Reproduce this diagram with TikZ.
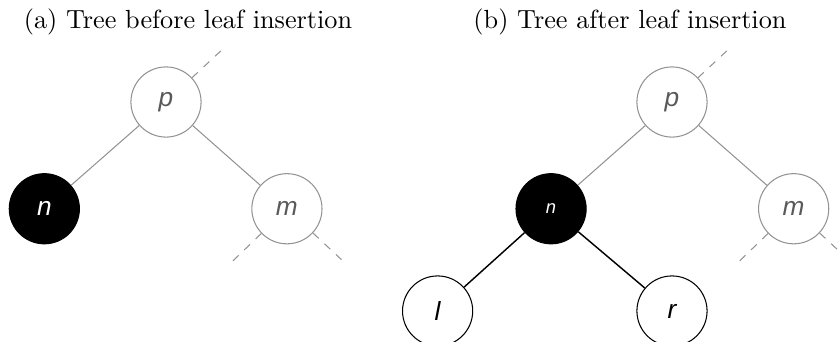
\documentclass[tikz,border=0pt]{standalone}
\usepackage{fontspec}
\newfontfamily\keyfont{Liberation Sans}
\usetikzlibrary{positioning}

\begin{document}
\begin{tikzpicture}[
        x=0.0134cm, y=-0.0134cm,
        node distance=1.43cm and 1.63cm,
        % caption of each tree
        caption/.style={anchor=base, font=\normalsize},
        % nodes already in the tree (gray)
        oldkey/.style={circle, draw=gray!85, minimum size=0.94cm, inner sep=0pt, text=black!65, font=\keyfont\itshape},
        % the inserted leaf
        leafkey/.style={circle, draw=black, fill=black, minimum size=0.94cm, inner sep=0pt, text=white, font=\keyfont\itshape},
        % new children
        newkey/.style={circle, draw=black, minimum size=0.94cm, inner sep=0pt, text=black, font=\keyfont\itshape},
        % edges
        oldedge/.style={draw=gray!85, line width=0.4pt},
        newedge/.style={draw=black, line width=0.55pt},
        stub/.style={draw=gray!85, dashed, line width=0.4pt}
    ]
    \useasboundingbox (0,0) rectangle (839,341);

    % captions
    \node[caption] (cap_a) at (188,28) {(a) Tree before leaf insertion};
    \node[caption] (cap_b) at (630,28) {(b) Tree after leaf insertion};

    % (a) before
    \node[oldkey] (p_a) at (166,102) {p};
    \node[leafkey, on grid, below left=of p_a] (n_a) {n};
    \node[oldkey, on grid, below right=1.43cm and 1.62cm of p_a] (m_a) {m};

    \coordinate (p_a_up) at ([shift={(43:1.05cm)}]p_a.center);
    \coordinate (m_a_l) at ([shift={(224:1.02cm)}]m_a.center);
    \coordinate (m_a_r) at ([shift={(-43:1.0cm)}]m_a.center);

    \draw[oldedge] (p_a) -- (n_a);
    \draw[oldedge] (p_a) -- (m_a);
    \draw[stub] (p_a) -- (p_a_up);
    \draw[stub] (m_a) -- (m_a_l);
    \draw[stub] (m_a) -- (m_a_r);

    % (b) after
    \node[oldkey] (p_b) at (672,102) {p};
    \node[leafkey, on grid, below left=1.43cm and 1.62cm of p_b, font=\keyfont\itshape\scriptsize] (n_b) {n};
    \node[oldkey, on grid, below right=of p_b] (m_b) {m};
    \node[newkey, on grid, below left=1.37cm and 1.52cm of n_b] (l_b) {l};
    \node[newkey, on grid, below right=1.37cm and 1.62cm of n_b] (r_b) {r};

    \coordinate (p_b_up) at ([shift={(43:1.05cm)}]p_b.center);
    \coordinate (m_b_l) at ([shift={(224:1.02cm)}]m_b.center);
    \coordinate (m_b_r) at ([shift={(-43:1.0cm)}]m_b.center);

    \draw[oldedge] (p_b) -- (n_b);
    \draw[oldedge] (p_b) -- (m_b);
    \draw[newedge] (n_b) -- (l_b);
    \draw[newedge] (n_b) -- (r_b);
    \draw[stub] (p_b) -- (p_b_up);
    \draw[stub] (m_b) -- (m_b_l);
    \draw[stub] (m_b) -- (m_b_r);

\end{tikzpicture}
\end{document}
